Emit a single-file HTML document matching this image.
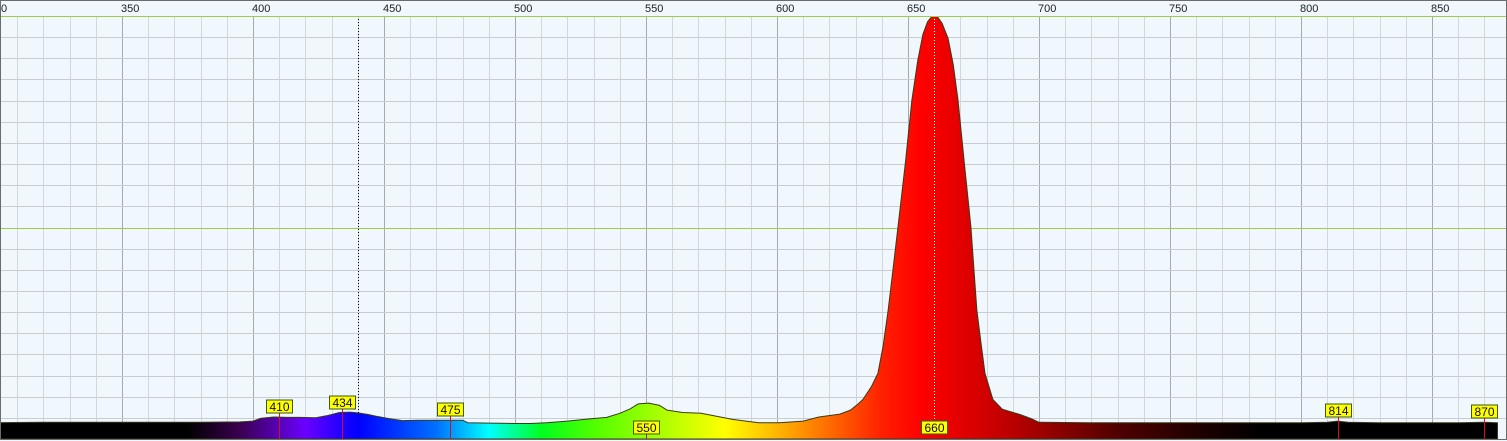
<!DOCTYPE html>
<html><head><meta charset="utf-8"><style>
html,body{margin:0;padding:0;background:#fff;}
svg{display:block;font-family:"Liberation Sans",sans-serif;}
</style></head><body>
<svg id="chart" width="1507" height="441" viewBox="0 0 1507 441" xmlns="http://www.w3.org/2000/svg">
<defs><linearGradient id="spec" gradientUnits="userSpaceOnUse" x1="0" y1="0" x2="1507" y2="0"></linearGradient></defs>
<rect x="0" y="0" width="1507" height="441" fill="#f0f7fd"/>
<g id="grid"></g>
<g id="area"></g>
<g id="markers"></g>
<g id="axis"></g>
<rect x="0.5" y="0.5" width="1506" height="439" fill="none" stroke="#6b6b6b" stroke-width="1"/>
</svg>
<script>
const wavelengths=[300,320,340,360,380,395,400,403,408,413,418,424,428,433,437,440,444,447,452,457,463,470,475,480,482,490,500,506,512,520,528,535,540,544,547,551,555,558,564,571,583,593,601,610,616,624,628,631,632.8,636,638.5,640.5,642.4,644.3,646.2,649,651.5,653.7,655.7,657.5,659,660.3,661.5,663,665.3,667.3,669.1,671.5,674,676.3,678,679.4,682.4,686,692.7,697,700,720,760,800,810,814,818,830,860,870,875];
const intensities=[0.2,0.3,0.3,0.3,0.3,0.4,0.6,1.3,1.6,1.5,1.5,1.4,1.9,2.7,2.8,2.6,2.2,1.8,1.2,0.7,0.8,0.8,0.8,0.8,0.2,0.1,0,0,0.2,0.6,1.1,1.5,2.5,3.6,4.8,5,4.5,3.3,2.7,2.5,1,0.2,0.2,0.6,1.6,2.3,3.3,4.8,5.9,9,12.3,19,27.7,38,48.3,64,79.4,89,95.5,98.6,99.8,100,99.6,98.2,94.5,88,79.4,64,48.3,27.7,19,12.3,5.9,3.5,2.2,1.2,0.3,0.2,0.2,0.2,0.3,0.6,0.3,0.2,0.2,0.3,0.2];
const axisTicks=[300,350,400,450,500,550,600,650,700,750,800,850];
const peakLabels=[410,434,475,550,660,814,870];
const cursorLabels=[440,660];
const specStops=[[300,'#000000'],[375,'#000000'],[395,'#3a0050'],[420,'#6a00ff'],[440,'#0000ff'],[470,'#0070ff'],[490,'#00ffff'],[510,'#00ff20'],[530,'#50ff00'],[555,'#a8ff00'],[580,'#ffff00'],[610,'#ff9000'],[640,'#ff2000'],[655,'#ff0000'],[680,'#d00000'],[700,'#a00000'],[730,'#500000'],[760,'#200000'],[785,'#000000'],[880,'#000000']];
const NS='http://www.w3.org/2000/svg';
const xS=nm=>122+(nm-350)*2.62;
const yS=v=>423.5-v*(423.5-16)/100;
function mk(tag,attrs,parent){const e=document.createElementNS(NS,tag);for(const k in attrs)e.setAttribute(k,attrs[k]);parent.appendChild(e);return e;}
const grid=document.getElementById('grid');
for(let nm=300;nm<=880;nm+=10){const x=Math.round(xS(nm))+0.5;const major=nm%50===0;
 const l=mk('line',{x1:x,x2:x,y1:16,y2:440,stroke:major?'#a6aaae':'#d3d7db','stroke-width':1},grid);
 
 }
for(let i=0;i<=19;i++){const y=Math.round(16+i*21.15)+0.5;const green=(i===0||i===10);
 const l=mk('line',{x1:0,x2:1507,y1:y,y2:y,stroke:green?'#9ccc4a':'#c9cdd1','stroke-width':1},grid);
 
 }
const g=document.getElementById('spec');
specStops.forEach(s=>{mk('stop',{offset:(xS(s[0])/1507).toFixed(4),'stop-color':s[1]},g);});
let d='M'+xS(wavelengths[0])+',439';
wavelengths.forEach((w,i)=>{d+=' L'+xS(w).toFixed(1)+','+yS(intensities[i]).toFixed(1);});
d+=' L'+xS(wavelengths[wavelengths.length-1])+',439 Z';
const area=mk('path',{d:d,fill:'url(#spec)',stroke:'#3a3a1a','stroke-width':1,'stroke-linejoin':'round'},document.getElementById('area'));


const ax=document.getElementById('axis');
const band=mk('rect',{x:0,y:0,width:1507,height:16,fill:'#f0f7fd'},ax);


const gl=mk('line',{x1:0,x2:1507,y1:16.5,y2:16.5,stroke:'#9ccc4a'},ax);


axisTicks.forEach(t=>{const x=xS(t);const txt=mk('text',{x:t===300?1:x-1,y:12,'font-size':11,fill:'#222'},ax);txt.textContent=t===300?'0':String(t);
 
 });
const mg=document.getElementById('markers');
const topY={410:400,434:396,475:403,814:404,870:405};
peakLabels.forEach(p=>{const x=Math.round(xS(p))+0.5;const bottom=(p===550||p===660);const by=bottom?421:topY[p];
 const ln=mk('line',{x1:x,x2:x,y1:by+13,y2:439,stroke:'#d01020','stroke-width':1},mg);
 
 
 const r=mk('rect',{x:x-13,y:by,width:26,height:13,fill:'#ffff00',stroke:'#3a5a1a','stroke-width':1},mg);
 
 
 const t=mk('text',{x:x,y:by+11,'font-size':12,'text-anchor':'middle',fill:'#111'},mg);t.textContent=String(p);
 
 });
cursorLabels.forEach(c=>{const x=Math.round(xS(c))+0.5;
 const ln=mk('line',{x1:x,x2:x,y1:16,y2:421,stroke:c===660?'#ffffff':'#000000','stroke-width':1,'stroke-dasharray':'1,2'},mg);
 
 
 const r=mk('rect',{x:x-12.5,y:1.5,width:25,height:14,fill:'#ffff00',stroke:'#c03020','stroke-width':1},mg);
 
 
 const t=mk('text',{x:x,y:13,'font-size':12,'text-anchor':'middle',fill:'#111'},mg);t.textContent=String(c);
 
 });
</script>
</body></html>
